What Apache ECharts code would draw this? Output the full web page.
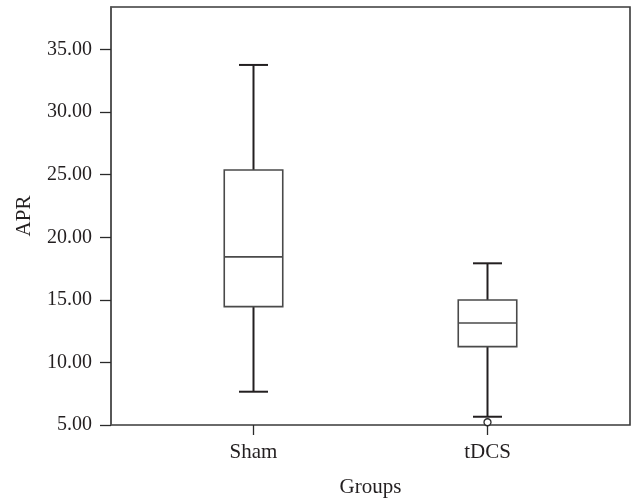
<!DOCTYPE html>
<html>
<head>
<meta charset="utf-8">
<script src="https://cdn.jsdelivr.net/npm/echarts@6/dist/echarts.min.js"></script>
<style>
html,body{margin:0;padding:0;background:#fff;}
#chart{width:632px;height:498px;}
</style>
</head>
<body>
<div id="chart"></div>
<script>
const categories = ['Sham', 'tDCS'];
const lowerWhisker = [7.66, 5.66];
const q1 = [14.46, 11.26];
const median = [18.43, 13.15];
const q3 = [25.38, 14.99];
const upperWhisker = [33.77, 17.92];
const outliers = [[1, 5.22]];
const yTicks = [5, 10, 15, 20, 25, 30, 35];
const yMin = 5, yMax = 38.4;

const FONT = "'Liberation Serif','DejaVu Serif',serif";
const boxData = categories.map((c, i) => [i, lowerWhisker[i], q1[i], median[i], q3[i], upperWhisker[i]]);

const chart = echarts.init(document.getElementById('chart'), null, {renderer: 'canvas'});

function renderBox(params, api) {
  const x = api.value(0);
  const pLow = api.coord([x, api.value(1)]);
  const pQ1 = api.coord([x, api.value(2)]);
  const pMed = api.coord([x, api.value(3)]);
  const pQ3 = api.coord([x, api.value(4)]);
  const pHigh = api.coord([x, api.value(5)]);
  const band = api.size([1, 0])[0];
  const hb = band * 0.125;
  const hc = band * 0.062;
  const cx = pMed[0];
  const whisk = {stroke: '#231f20', lineWidth: 2};
  const boxS = {stroke: '#4a4a4a', lineWidth: 1.6, fill: '#fff'};
  return {
    type: 'group',
    children: [
      {type: 'line', shape: {x1: cx, y1: pLow[1], x2: cx, y2: pQ1[1]}, style: whisk},
      {type: 'line', shape: {x1: cx, y1: pQ3[1], x2: cx, y2: pHigh[1]}, style: whisk},
      {type: 'line', shape: {x1: cx - hc, y1: pLow[1], x2: cx + hc, y2: pLow[1]}, style: whisk},
      {type: 'line', shape: {x1: cx - hc, y1: pHigh[1], x2: cx + hc, y2: pHigh[1]}, style: whisk},
      {type: 'rect', shape: {x: cx - hb, y: pQ3[1], width: 2 * hb, height: pQ1[1] - pQ3[1]}, style: boxS},
      {type: 'line', shape: {x1: cx - hb, y1: pMed[1], x2: cx + hb, y2: pMed[1]}, style: {stroke: '#4a4a4a', lineWidth: 1.6}}
    ]
  };
}

const option = {
  animation: false,
  backgroundColor: '#fff',
  grid: [
    {left: 111, right: 2, top: 7, bottom: 73, show: true, borderColor: '#3a3a3a', borderWidth: 1.6, backgroundColor: 'transparent', containLabel: false, outerBoundsMode: 'none'},
    {left: 136.5, right: 27.5, top: 7, bottom: 73, containLabel: false, outerBoundsMode: 'none'}
  ],
  xAxis: [
    {gridIndex: 0, type: 'value', min: 0, max: 1, show: false},
    {
      gridIndex: 1, type: 'category', data: categories, boundaryGap: true,
      axisLine: {show: false, onZero: false},
      axisTick: {show: true, alignWithLabel: true, length: 10, lineStyle: {color: '#2a2a2a', width: 1.3}},
      axisLabel: {fontFamily: FONT, fontSize: 21, color: '#231f20', margin: 17},
      splitLine: {show: false},
      name: 'Groups', nameLocation: 'middle', nameGap: 52,
      nameTextStyle: {fontFamily: FONT, fontSize: 21, color: '#231f20'}
    }
  ],
  yAxis: [
    {
      gridIndex: 0, type: 'value', min: yMin, max: yMax, interval: 5,
      axisLine: {show: true, lineStyle: {color: '#555', width: 1.6}},
      axisTick: {show: true, length: 11, customValues: yTicks, lineStyle: {color: '#2a2a2a', width: 1.3}},
      axisLabel: {customValues: yTicks, formatter: v => Number(v).toFixed(2), fontFamily: FONT, fontSize: 20, color: '#231f20', margin: 19},
      splitLine: {show: false},
      name: 'APR', nameLocation: 'middle', nameGap: 76,
      nameTextStyle: {fontFamily: FONT, fontSize: 21, color: '#231f20'}
    },
    {gridIndex: 1, type: 'value', min: yMin, max: yMax, show: false}
  ],
  series: [
    {
      type: 'custom', xAxisIndex: 1, yAxisIndex: 1,
      renderItem: renderBox,
      encode: {x: 0, y: [1, 2, 3, 4, 5]},
      data: boxData,
      z: 3
    },
    {
      type: 'scatter', xAxisIndex: 1, yAxisIndex: 1,
      data: outliers, symbol: 'circle', symbolSize: 7,
      itemStyle: {color: '#fff', borderColor: '#2a2a2a', borderWidth: 1.3, opacity: 1},
      z: 4
    }
  ]
};
chart.setOption(option);
</script>
</body>
</html>
